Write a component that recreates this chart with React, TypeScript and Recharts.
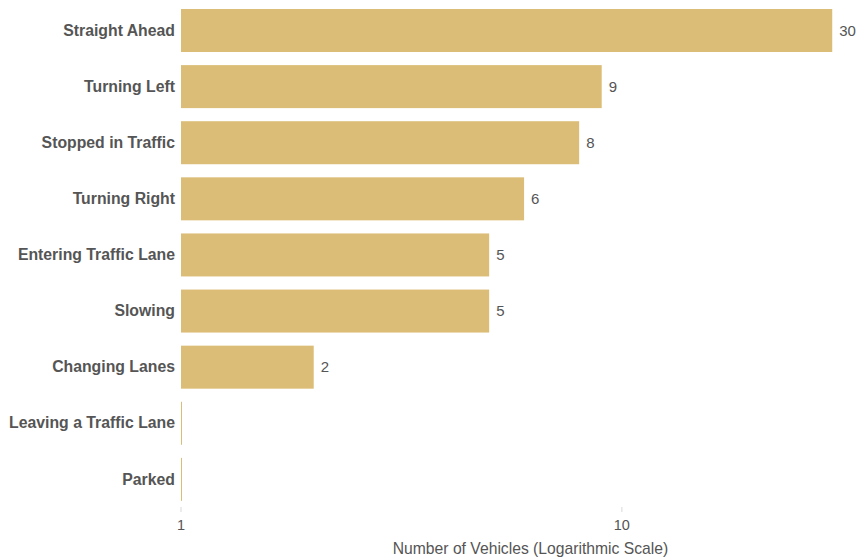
import { Bar, BarChart, LabelList, XAxis, YAxis } from 'recharts'

const movements = [
  'Straight Ahead',
  'Turning Left',
  'Stopped in Traffic',
  'Turning Right',
  'Entering Traffic Lane',
  'Slowing',
  'Changing Lanes',
  'Leaving a Traffic Lane',
  'Parked',
]
const vehicles = [30, 9, 8, 6, 5, 5, 2, 1, 1]
const xTicks = [1, 10]

const data = movements.map((movement, i) => ({ movement, vehicles: vehicles[i] }))

const BAR_COLOR = '#dbbd77'
const TEXT = '#555555'

// value 1 sits on the log baseline, so draw it as a hairline
function ThinBar(props: any) {
  const { x, y, width, height } = props
  const w = Math.max(width, 1)
  return <rect x={x} y={y} width={w} height={height} fill={BAR_COLOR} />
}

export default function App() {
  return (
    <div
      style={{
        position: 'absolute',
        left: 0,
        top: 0,
        width: 856,
        height: 560,
        overflow: 'hidden',
        fontFamily: '"Liberation Sans", Arial, sans-serif',
      }}
    >
      <BarChart
        width={880}
        height={560}
        data={data}
        layout="vertical"
        margin={{ top: 2, right: 0, bottom: 0, left: 0 }}
        barSize={43}
      >
        <XAxis
          type="number"
          scale="log"
          domain={[1, 38.5]}
          ticks={xTicks}
          allowDataOverflow
          axisLine={false}
          tickLine={{ stroke: '#d9d9d9' }}
          tickSize={5}
          tickMargin={8}
          tick={{ fill: TEXT, fontSize: 14.5 }}
          height={53}
          label={{
            value: 'Number of Vehicles (Logarithmic Scale)',
            position: 'insideBottom',
            offset: 6,
            fill: TEXT,
            fontSize: 15.7,
          }}
        />
        <YAxis
          type="category"
          dataKey="movement"
          width={181}
          axisLine={false}
          tickLine={false}
          tickMargin={0}
          tick={{ fill: TEXT, fontSize: 15.8, fontWeight: 'bold' }}
        />
        <Bar dataKey="vehicles" fill={BAR_COLOR} shape={ThinBar} isAnimationActive={false}>
          <LabelList
            dataKey="vehicles"
            position="right"
            offset={7}
            fill={TEXT}
            fontSize={15}
            formatter={(v: any) => (v > 1 ? v : '')}
          />
        </Bar>
      </BarChart>
    </div>
  )
}
